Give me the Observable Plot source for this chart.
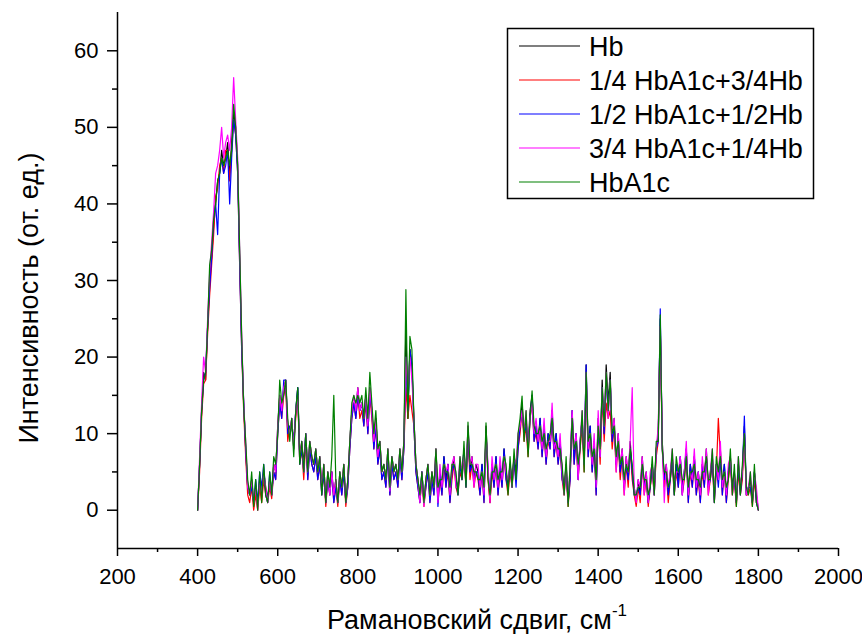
<!DOCTYPE html>
<html><head><meta charset="utf-8">
<script src="https://cdn.jsdelivr.net/npm/d3@7"></script>
<script src="https://cdn.jsdelivr.net/npm/@observablehq/plot@0.6"></script>
<style>
body{margin:0;background:#fff}
svg{font-family:"Liberation Sans",Arial,sans-serif}
</style>
</head><body><div id="chart"></div>
<script>
// Series names and colours (legend order = draw order)
const seriesNames = ["Hb", "1/4 HbA1c+3/4Hb", "1/2 HbA1c+1/2Hb", "3/4 HbA1c+1/4Hb", "HbA1c"];
const seriesColors = ["#000000", "#ff0000", "#0000ff", "#ff00ff", "#008000"];

// Raman shift grid (cm^-1), 400..1800 step 5
const ramanShift = d3.range(400, 1801, 5);

// Intensities (arb. units)
const hb = [
 0,6,13,18,17,24,30,33,37,40,43,44,47,45,46,48,44,48,52,50,
 45,33,22,14,8,3,2,4,1,3,0.5,4,2,5,3,1.5,4,2,6,5,
 11,15,13,16,17,11,10,12,8,13,16,7,9,6,10,5,9,7,6,8,
 5,7,3,6,1,5,3,5,2,4,1,5,3,6,1,4,9,13,14,13,
 16,13,14,12,15,11,16,13,9,12,7,9,5,6,4,8,3,7,5,6,
 4,8,5,9,24,12,21,19,12,6,4,2,5,1,4,6,2,5,3,8,
 2,5,3,7,4,6,2,5,7,4,3,6,5,8,4,11,5,7,4,6,
 5,3,6,2,11,5,1,6,4,7,3,6,4,8,5,3,6,4,7,5,
 9,11,14,10,12,8,13,15,10,11,9,12,8,11,7,10,9,13,8,10,
 7,9,5,3,6,1,5,13,7,10,5,9,12,6,19,8,11,6,9,3,
 12,7,17,10,19,14,18,9,12,6,10,5,8,3,7,4,9,5,3,1,
 4,2,7,3,5,1,4,6,3,8,10,25,9,4,6,2,5,7,3,6,
 4,7,3,5,8,2,6,4,7,3,5,2,6,4,8,3,5,7,2,6,
 4,8,3,6,2,5,7,3,5,1,6,3,5,11,2,3,4,1,5,2,0
];
const mixQuarter = [
 0,5,12,16.5,17,23,28,32,36,41,42,45,46,44,47,47,43,47,51,49,
 44,32,21,13,7,2,1,3,0,2,0,3,1,4,2,1,3,1.5,5,4,
 10,14,12,15,16,9,11,11,9,12,15,6,8,4,9,4,8,6,5,7,
 4,6,2,5,0.5,4,2,5,1,3,0.5,4,2,5,0.5,3,8,12,14,12,
 15,12,13,11,14,10,15,12,8,11,6,8,4,5,3,7,2,6,4,5,
 3,7,4,8,16,12,15,13,11,5,3,1,4,0.5,3,5,1,4,2,7,
 1,4,2,6,3,5,1,4,6,3,2,5,4,7,3,10,4,6,3,5,
 4,2,5,1,10,4,1,5,3,6,2,5,3,7,4,2,5,3,6,4,
 8,10,13,9,11,7,12,14,9,10,8,11,7,10,6,9,8,12,7,9,
 6,8,4,2,5,0.5,4,12,6,9,4,8,11,5,17,7,10,5,8,2,
 11,6,15,9,14,12,13,8,11,5,9,4,7,2,6,3,8,4,2,0.5,
 3,1,6,2,4,0.5,3,5,2,7,9,24,8,3,5,1,4,6,2,5,
 3,6,2,4,7,1,5,3,6,2,4,1,5,3,7,2,4,6,1,5,
 12,7,2,5,1,4,6,2,4,0.5,5,2,4,10,2,2,3,0.5,4,1,0
];
const mixHalf = [
 0,6,13,17,18,24,29,33,38,40,36,44,46,44,45,47,40,46,51,49,
 44,32,21,14,8,3,2,3,1,4,1,5,3,6,2,1,5,2,5,4,
 10,14,12,17,17,10,11,11,9,13,16,6,8,5,10,4,8,6,5,7,
 4,6,2,5,1,4,2,5,1,3,1,4,2,5,1,3,8,12,14,12,
 15,13,14,11,15,10,15,13,8,11,6,8,4,5,3,7,2,6,4,5,
 3,7,4,8,20,13,21,19,11,5,3,1,5,1,3,5,1,4,2,7,
 0.5,5,2,7,3,6,1,5,6,4,2,6,4,8,3,10.5,5,6,4,5,
 5,2,6,1,10,5,2,6,3,7,2,6,3,8,4,3,6,3,7,3,
 8,11,13,10,11,8,12,15,9,11,8,12,7,11,6,10,8,13,7,10,
 6,9,4,3,5,1,4,13,6,10,4,9,12,6,19,7,11,5,9,2,
 11,7,16,10,17,13,17,9,11,6,9,5,7,3,6,4,8,5,2,2,
 3,2,6,3,4,1,3,6,2,8,9,26.3,8,4,5,2,4,7,2,6,
 3,7,2,5,8,1,6,3,7,2,5,1,6,3,7,3,4,7,1,6,
 3,7,2,6,1,5,6,3,4,1,6,2,5,12.3,2,3,3,1,5,1,0
];
const mixThreeQuarter = [
 0,7,14,20,18,25,31,35,39,44,45,47,50,46,48,49,47,50,56.5,51,
 46,34,23,14,9,3,2,4,1,3,0,4,2,5,3,1,4,2,6,5,
 11,15,13,16,17,11,10,12,8,13,15,7,9,5,10,5,9,7,6,8,
 5,7,3,6,1,5,2,5,2,4,1,5,3,6,1,4,9,13,15,13,
 16,13,14,12,15,11,16,13,9,12,7,9,5,6,4,8,2.5,7,5,6,
 4,8,5,9,20,15,20,17,12,6,4,1,5,0.5,4,6,2,5,3,8,
 1,6,3,6,5,6,2,6,7,3,3,7,5,7,4,11,6,7,3,6,
 6,3,5,2,10,6,1,7,4,6,3,7,4,7,5,4,6,3,7,6,
 10,11,13,10,13,8,12,14,10,12,9,11,8,12,7,9,9,14,8,9,
 7,10,5,2,6,1,6,13,8,10,4,9,13,6,18,8,10,6,10,3,
 13,7,16,11,18,12,17,10,12,5,10,6,8,2,7,5,9,16,3,1,
 4,3,7,2,5,1,5,6,2,8,11,24,9,1,6,3,5,8,3,5,
 5,7,2,5,9,2,5,4,8,3,5,2,7,4,8,2,5,8,2,6,
 4,9,3,5,2,6,7,2,5,1,7,3,5,10,2,3,5,1,5,3,0
];
const hba1c = [
 0,6,13,17,18,24,32,34,38,40,43,44,46,45,46,47,45,47,53,50,
 45,34,22.7,13.5,9,4,2,5,0.5,4,0,5,1,6,2,1,5,2,7,6,
 10,17,14,15,17,12,9,12,7,13,16,6,9,5,10,5,9,7,6,8,
 5,7,2,6,1,5,3,7,15,4,1,5,3,6,1,4,9,14,15,14,
 15,14,15,12,16,12,18,14,10,13,8,9,5,6,4,8,3,7,5,6,
 4,8,5,9,28.8,12,22.7,21,12,6,4,2,5,1,4,6,2,5,3,8,
 3,4,4,6,5,5,3,6,6,5,2,7,4,9,3,11.5,6,6,5,5,
 4,4,5,3,11.4,4,2,5,5,6,4,5,5,7,6,2,7,3,8,4,
 10,12,14.9,9,13,7,12,15.6,11,10,10,11,9,10,8,9,10,12,9,9,
 8,8,6,2,7,0.5,6,12,8,9,6,8,13,5,18,9,10,7,8,4,
 11,8,16,11,18,13,17,10,11,7,9,6,7,4,6,5,8,6,2,2,
 3,3,6,4,4,2,3,7,2,9,9,25.5,8,5,5,3,4,8,2,7,
 5,6,4,4,7,3,5,5,6,4,4,3,5,5,7,4,4,8,1,7,
 5,7,4,5,3,4,8,2,6,0.5,7,2,6,10,3,2,5,0.5,6,1,0
];

// Axis ticks
const xMajorTicks = [200,400,600,800,1000,1200,1400,1600,1800,2000];
const xMinorTicks = [300,500,700,900,1100,1300,1500,1700,1900];
const yMajorTicks = [0,10,20,30,40,50,60];
const yMinorTicks = [5,15,25,35,45,55];

const allSeries = [hb, mixQuarter, mixHalf, mixThreeQuarter, hba1c];
const rows = [];
allSeries.forEach((vals, si) => {
  const n = Math.min(vals.length, ramanShift.length);
  for (let i = 0; i < n; i++) rows.push({series: seriesNames[si], x: ramanShift[i], y: vals[i]});
});

const plot = Plot.plot({
  width: 862, height: 634,
  marginLeft: 117, marginRight: 24, marginTop: 12, marginBottom: 86,
  style: {fontFamily: '"Liberation Sans", Arial, sans-serif', fontSize: "22px", background: "white", color: "black"},
  x: {domain: [200, 2000]},
  y: {domain: [-5, 65]},
  color: {domain: seriesNames, range: seriesColors},
  marks: [
    Plot.line(rows, {x: "x", y: "y", z: "series", stroke: "series", strokeWidth: 1.2}),
    Plot.axisX({ticks: xMajorTicks, tickSize: 8, tickPadding: 12, label: null, strokeWidth: 1.5, tickFormat: d => String(d)}),
    Plot.axisX({ticks: xMinorTicks, tickSize: 4, text: null, label: null, strokeWidth: 1.5}),
    Plot.axisY({ticks: yMajorTicks, tickSize: 10, tickPadding: 9, label: null, strokeWidth: 1.5, tickFormat: d => String(d)}),
    Plot.axisY({ticks: yMinorTicks, tickSize: 5, text: null, label: null, strokeWidth: 1.5}),
    Plot.ruleX([200], {strokeWidth: 1.5}),
    Plot.ruleY([-5], {strokeWidth: 1.5})
  ]
});

const svg = d3.select(plot);
// Legend
const lg = svg.append("g").attr("font-size", 27).attr("fill", "black").attr("text-anchor", "start");
lg.append("rect").attr("x", 507.5).attr("y", 28.5).attr("width", 306).attr("height", 170)
  .attr("fill", "white").attr("stroke", "black").attr("stroke-width", 1.5);
seriesNames.forEach((name, i) => {
  const cy = 46 + i * 34;
  lg.append("line").attr("x1", 519).attr("x2", 580).attr("y1", cy).attr("y2", cy)
    .attr("stroke", seriesColors[i]).attr("stroke-width", 1.2);
  lg.append("text").attr("x", 589).attr("y", cy).attr("dy", "0.36em").attr("text-anchor", "start").text(name);
});
// Axis titles
const xt = svg.append("text").attr("x", 477).attr("y", 629).attr("text-anchor", "middle")
  .attr("font-size", 27).attr("fill", "black");
xt.append("tspan").text("Рамановский сдвиг, см");
xt.append("tspan").attr("font-size", 17).attr("dy", -13).text("-1");
svg.append("text").attr("transform", "translate(38,298) rotate(-90)").attr("text-anchor", "middle")
  .attr("font-size", 27).attr("fill", "black").text("Интенсивность (от. ед.)");

document.getElementById("chart").appendChild(plot);
</script>
</body></html>
